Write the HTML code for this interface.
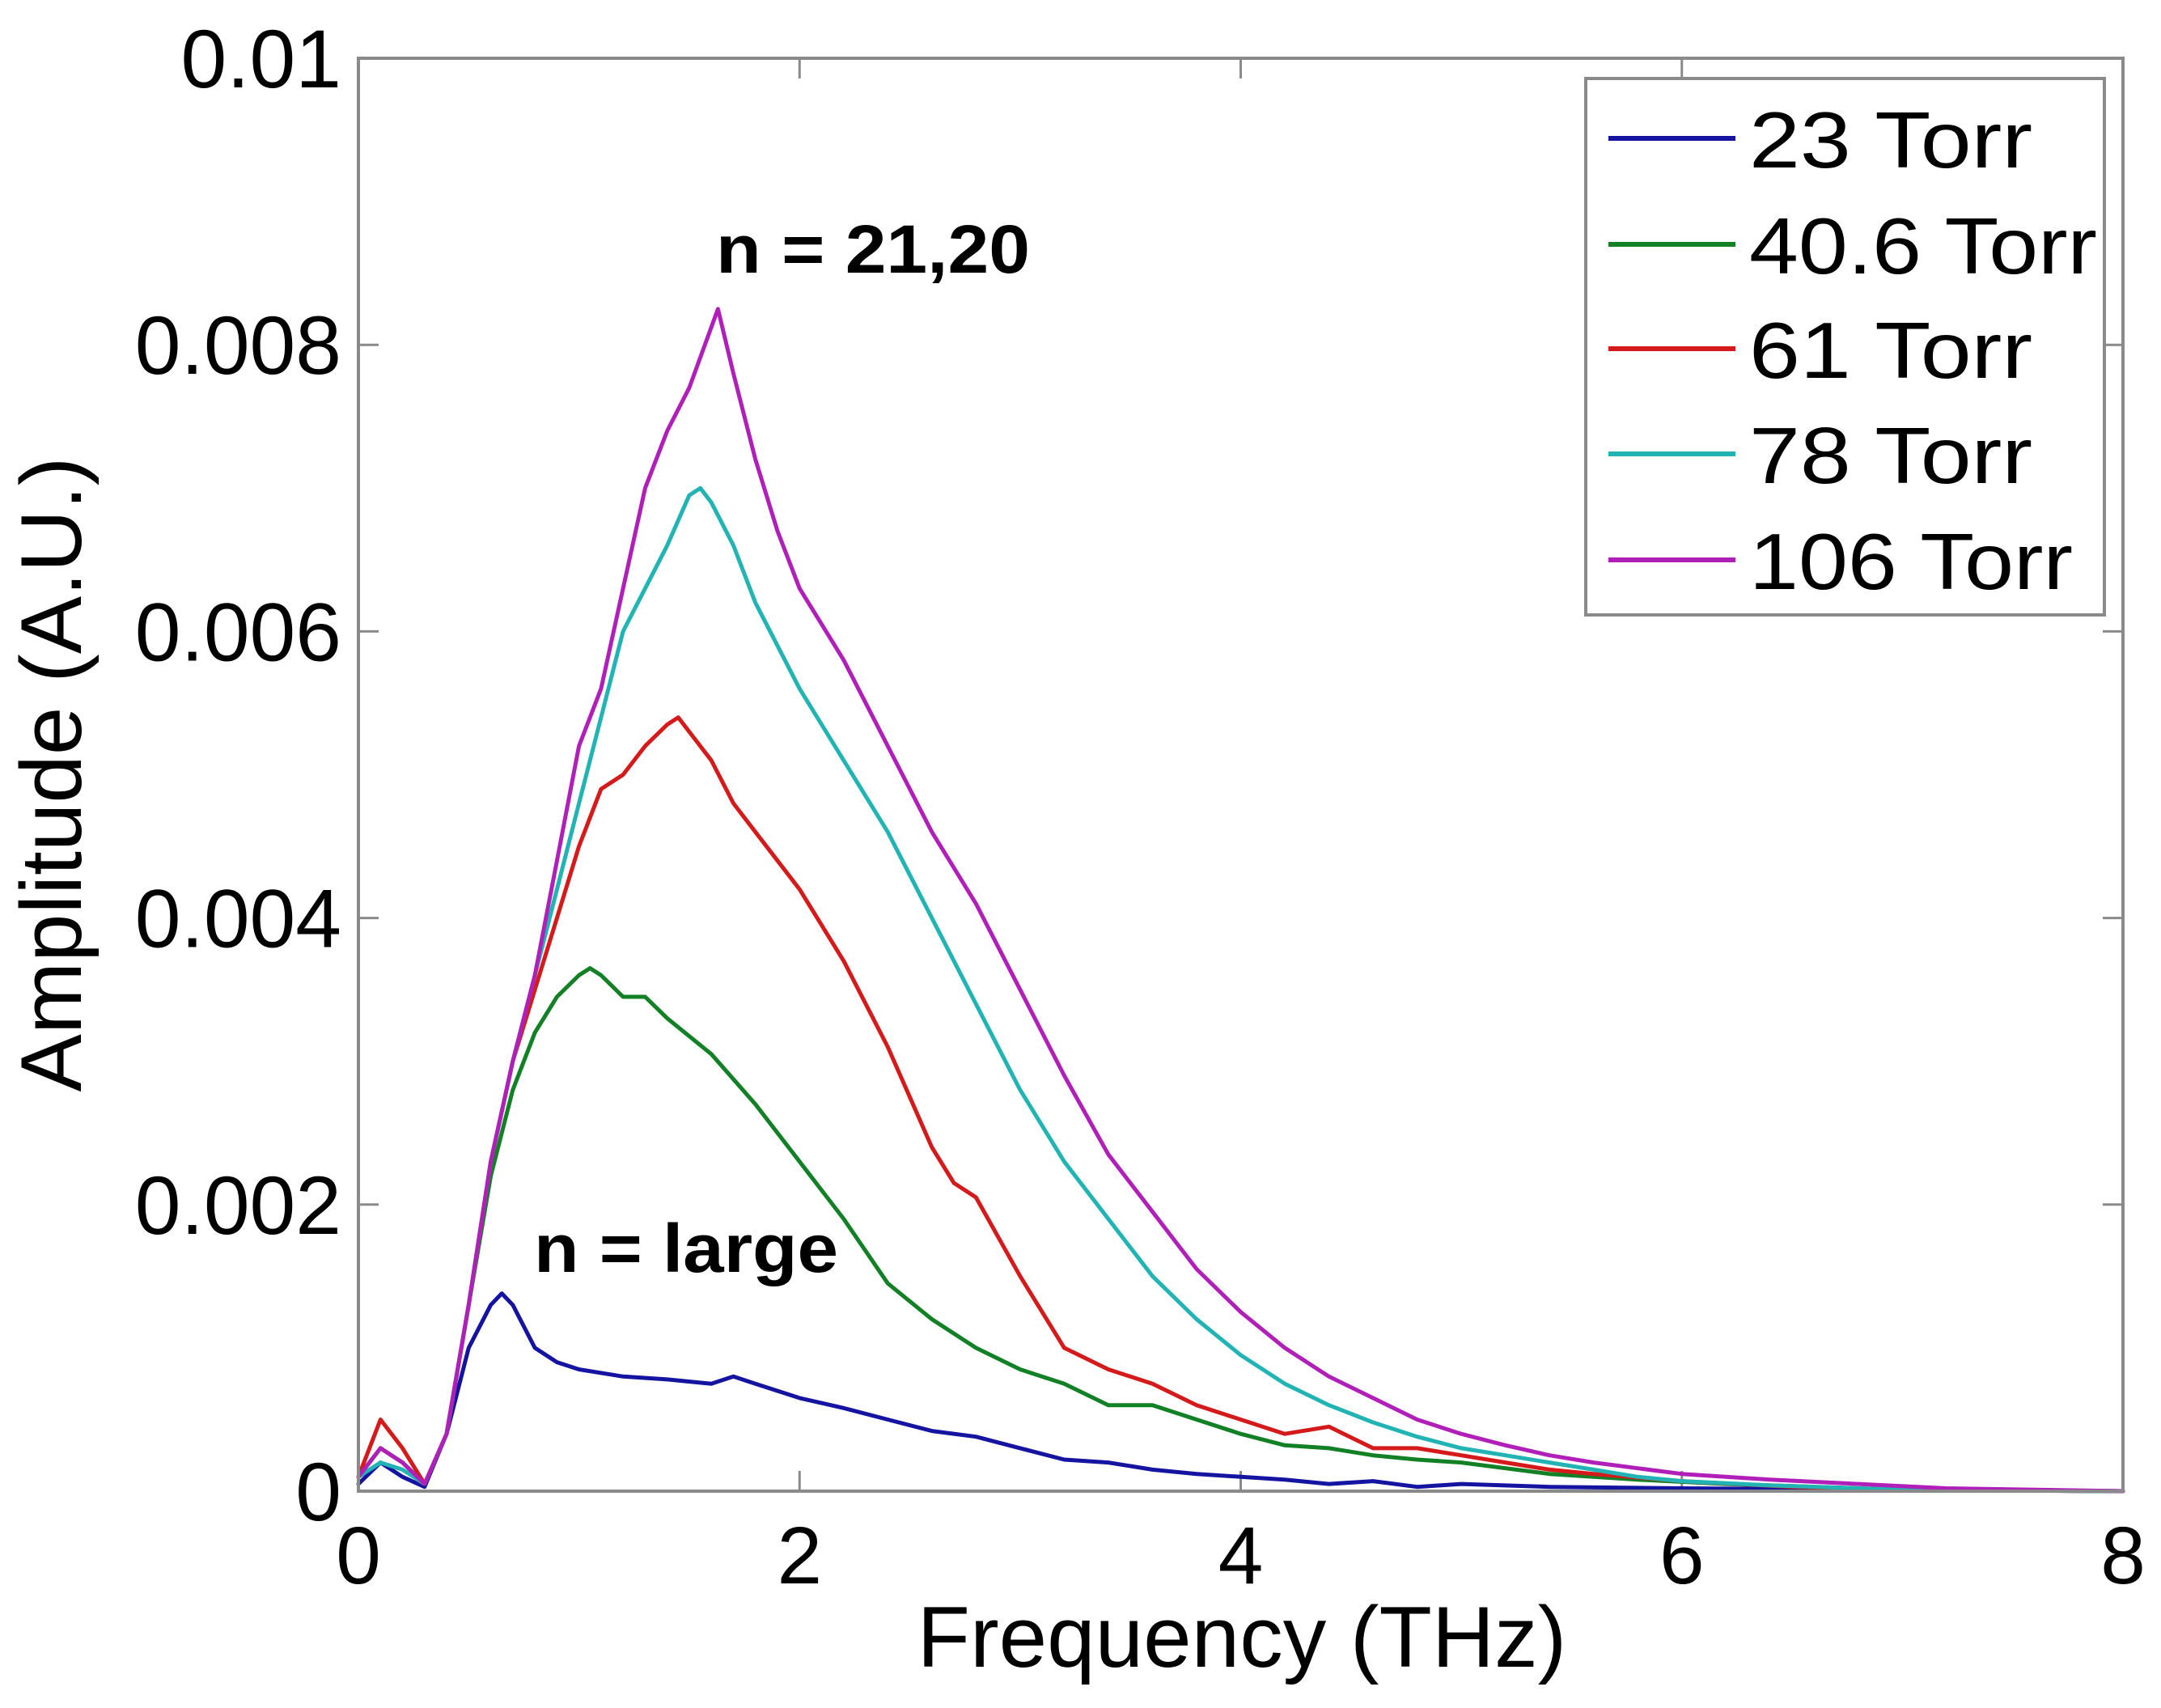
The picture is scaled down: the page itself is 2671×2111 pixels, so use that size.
<!DOCTYPE html>
<html><head><meta charset="utf-8"><style>
html,body{margin:0;padding:0;background:#fff;}
svg{display:block;font-family:"Liberation Sans",Arial,sans-serif;}
</style></head><body>
<svg id="chart" width="2671" height="2111" viewBox="0 0 2671 2111" xmlns="http://www.w3.org/2000/svg">
<rect x="0" y="0" width="2671" height="2111" fill="#fff"/>
<g id="axes"></g>
<g id="series"></g>
<rect x="443" y="72" width="2181" height="1771" fill="none" stroke="#8a8a8a" stroke-width="4"/>
<text x="885" y="337" font-size="84" font-weight="bold" fill="#000" textLength="388" lengthAdjust="spacingAndGlyphs">n = 21,20</text>
<text x="660" y="1572" font-size="84" font-weight="bold" fill="#000" textLength="376" lengthAdjust="spacingAndGlyphs">n = large</text>
<text x="1535" y="2060" font-size="107" text-anchor="middle" fill="#000">Frequency (THz)</text>
<text transform="translate(100,957) rotate(-90)" font-size="107" text-anchor="middle" fill="#000">Amplitude (A.U.)</text>
<g id="legend">
<rect x="1960" y="97" width="641" height="663" fill="#fff" stroke="#8a8a8a" stroke-width="4"/>
</g>
</svg>
<script>
const xTickValues=[0,2,4,6,8];
const xTickLabels=["0","2","4","6","8"];
const yTickValues=[0,0.002,0.004,0.006,0.008,0.01];
const yTickLabels=["0","0.002","0.004","0.006","0.008","0.01"];
const seriesNames=["23 Torr","40.6 Torr","61 Torr","78 Torr","106 Torr"];
const legendWidths=[350,430,350,350,400];
const seriesColors=["#1414a0","#128025","#d41a1a","#22b4b4","#b020b8"];
// amplitudes in units of 1e-3
const freq23=[0,0.1,0.2,0.3,0.4,0.5,0.6,0.65,0.7,0.8,0.9,1.0,1.2,1.4,1.6,1.7,1.8,2.0,2.2,2.4,2.6,2.8,3.0,3.2,3.4,3.6,3.8,4.0,4.2,4.4,4.6,4.8,5.0,5.4,6.0,8.0];
const amp23=[0.05,0.2,0.1,0.03,0.4,1.0,1.3,1.38,1.3,1.0,0.9,0.85,0.8,0.78,0.75,0.8,0.75,0.65,0.58,0.5,0.42,0.38,0.3,0.22,0.2,0.15,0.12,0.1,0.08,0.05,0.07,0.03,0.05,0.03,0.02,0];
const freq40=[0,0.1,0.2,0.3,0.4,0.5,0.6,0.7,0.8,0.9,1.0,1.05,1.1,1.2,1.3,1.4,1.6,1.8,2.0,2.2,2.4,2.6,2.8,3.0,3.2,3.4,3.6,3.8,4.0,4.2,4.4,4.6,4.8,5.0,5.4,5.8,6.2,7.0,8.0];
const amp40=[0.1,0.3,0.2,0.05,0.4,1.3,2.2,2.8,3.2,3.45,3.6,3.65,3.6,3.45,3.45,3.3,3.05,2.7,2.3,1.9,1.45,1.2,1.0,0.85,0.75,0.6,0.6,0.5,0.4,0.32,0.3,0.25,0.22,0.2,0.12,0.08,0.05,0.01,0];
const freq61=[0,0.1,0.2,0.3,0.4,0.5,0.6,0.7,0.8,0.9,1.0,1.1,1.2,1.3,1.4,1.45,1.5,1.6,1.7,1.8,2.0,2.2,2.4,2.6,2.7,2.8,3.0,3.2,3.4,3.6,3.8,4.0,4.2,4.4,4.6,4.8,5.0,5.2,5.4,5.6,6.0,6.5,7.0,8.0];
const amp61=[0.1,0.5,0.3,0.05,0.4,1.3,2.3,3.0,3.5,4.0,4.5,4.9,5.0,5.2,5.35,5.4,5.3,5.1,4.8,4.6,4.2,3.7,3.1,2.4,2.15,2.05,1.5,1.0,0.85,0.75,0.6,0.5,0.4,0.45,0.3,0.3,0.25,0.2,0.15,0.12,0.07,0.03,0.01,0];
const freq78=[0,0.1,0.2,0.3,0.4,0.5,0.6,0.7,0.8,0.9,1.0,1.1,1.2,1.3,1.4,1.5,1.55,1.6,1.7,1.8,2.0,2.2,2.4,2.6,2.8,3.0,3.2,3.4,3.6,3.8,4.0,4.2,4.4,4.6,4.8,5.0,5.2,5.4,5.6,5.8,6.0,6.4,7.0,8.0];
const amp78=[0.1,0.2,0.15,0.05,0.4,1.3,2.3,3.0,3.6,4.2,4.8,5.4,6.0,6.3,6.6,6.95,7.0,6.9,6.6,6.2,5.6,5.1,4.6,4.0,3.4,2.8,2.3,1.9,1.5,1.2,0.95,0.75,0.6,0.48,0.38,0.3,0.25,0.2,0.15,0.1,0.07,0.04,0.01,0];
const freq106=[0,0.1,0.2,0.3,0.4,0.5,0.6,0.7,0.8,0.9,1.0,1.1,1.2,1.3,1.4,1.5,1.63,1.7,1.8,1.9,2.0,2.2,2.4,2.6,2.8,3.0,3.2,3.4,3.6,3.8,4.0,4.2,4.4,4.6,4.8,5.0,5.2,5.4,5.6,5.8,6.0,6.4,6.8,7.2,8.0];
const amp106=[0.1,0.3,0.2,0.05,0.4,1.3,2.3,3.0,3.6,4.4,5.2,5.6,6.3,7.0,7.4,7.7,8.25,7.8,7.2,6.7,6.3,5.8,5.2,4.6,4.1,3.5,2.9,2.35,1.95,1.55,1.25,1.0,0.8,0.65,0.5,0.4,0.32,0.25,0.2,0.16,0.12,0.08,0.05,0.02,0];

const NS='http://www.w3.org/2000/svg';
const L=443,R=2624,T=72,B=1843;
function xs(v){return L+(v/8)*(R-L);}
function ys(v){return B-(v/0.01)*(B-T);}
const axes=document.getElementById('axes');
function mk(tag,attrs,parent){const e=document.createElementNS(NS,tag);for(const k in attrs)e.setAttribute(k,attrs[k]);parent.appendChild(e);return e;}
xTickValues.forEach((v,i)=>{
  const x=xs(v);
  let t=mk('line',{x1:x,y1:B,x2:x,y2:B-25,stroke:'#8a8a8a','stroke-width':3},axes);
  
  
  let t2=mk('line',{x1:x,y1:T,x2:x,y2:T+25,stroke:'#8a8a8a','stroke-width':3},axes);
  
  
  let lb=mk('text',{x:x,y:1957,'font-size':100,'text-anchor':'middle',fill:'#000'},axes);
  lb.textContent=xTickLabels[i];
  
  
});
yTickValues.forEach((v,i)=>{
  const y=ys(v);
  let t=mk('line',{x1:L,y1:y,x2:L+25,y2:y,stroke:'#8a8a8a','stroke-width':3},axes);
  
  
  let t2=mk('line',{x1:R,y1:y,x2:R-25,y2:y,stroke:'#8a8a8a','stroke-width':3},axes);
  
  
  let lb=mk('text',{x:422,y:y+36,'font-size':102,'text-anchor':'end',fill:'#000'},axes);
  lb.textContent=yTickLabels[i];
  
  
});
const freqs=[freq23,freq40,freq61,freq78,freq106];
const amps=[amp23,amp40,amp61,amp78,amp106];
const sg=document.getElementById('series');
freqs.forEach((f,s)=>{
  const pts=f.map((v,i)=>xs(v).toFixed(1)+','+ys(amps[s][i]*1e-3).toFixed(1)).join(' ');
  let p=mk('polyline',{points:pts,fill:'none',stroke:seriesColors[s],'stroke-width':5,'stroke-linejoin':'round','stroke-linecap':'round'},sg);
  
  
});
const lg=document.getElementById('legend');
const rowY=[171,302,431,561,692];
seriesNames.forEach((n,i)=>{
  let ln=mk('line',{x1:1988,y1:rowY[i],x2:2145,y2:rowY[i],stroke:seriesColors[i],'stroke-width':6},lg);
  
  
  let tx=mk('text',{x:2162,y:rowY[i]+36,'font-size':98,fill:'#000',textLength:legendWidths[i],lengthAdjust:'spacingAndGlyphs'},lg);
  tx.textContent=n;
  
  
});
</script>
</body></html>
